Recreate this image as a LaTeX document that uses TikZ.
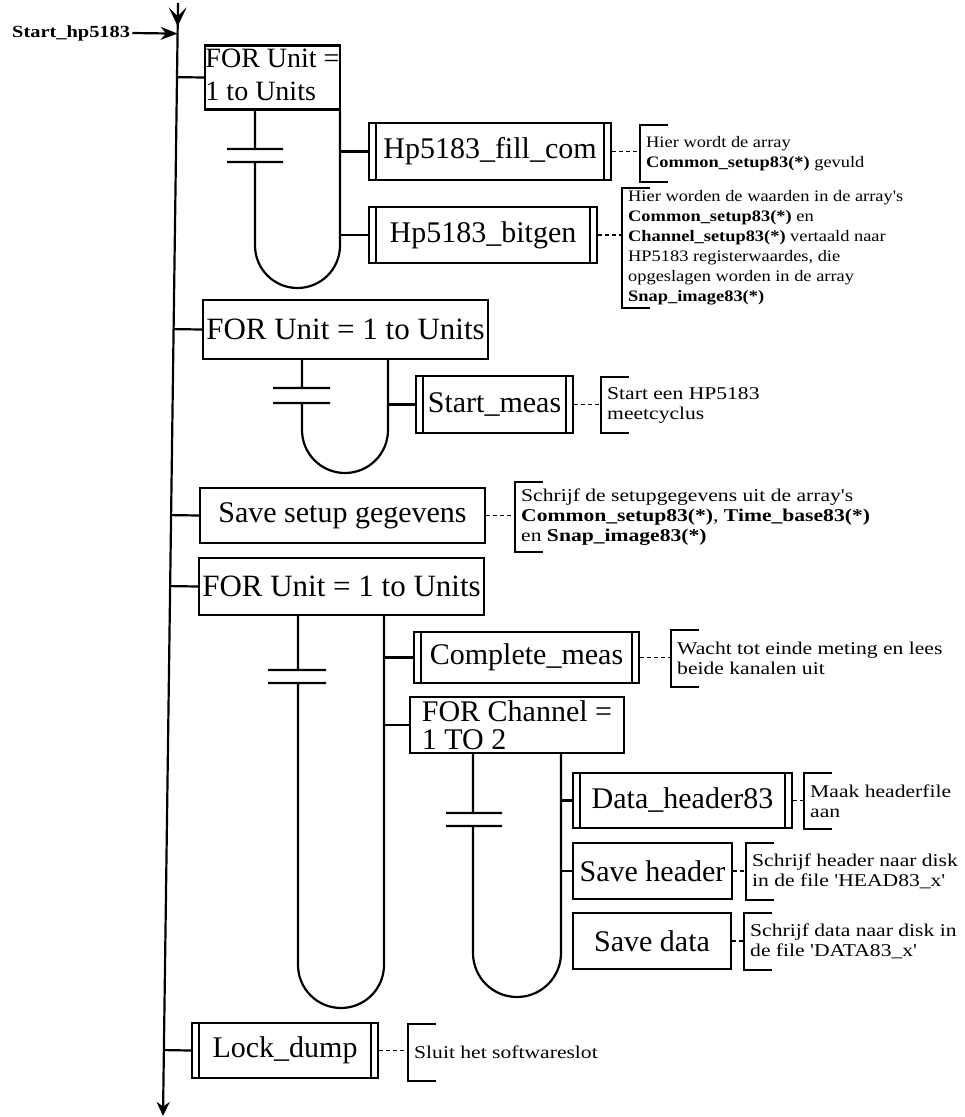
\documentclass[tikz,border=0pt]{standalone}
\usepackage{fontspec}
\setmainfont{Liberation Serif}
\newfontfamily\noteA[FakeStretch=1.15]{Liberation Serif}
\newfontfamily\noteB[FakeStretch=1.2]{Liberation Serif}
\usetikzlibrary{arrows.meta,calc}

% bracket on the left side of a note
\newcommand\notebracket[1]{%
  \draw[brk] ([xshift=28pt]#1.north west) -- (#1.north west) -- (#1.south west) -- ([xshift=28pt]#1.south west);}

\tikzset{
  flow/.style={line width=2.2pt},
  brk/.style={line width=1.9pt},
  dots/.style={line width=1.8pt, dash pattern=on 4pt off 3pt},
  plainbox/.style={draw, line width=2.2pt, rectangle, inner sep=0pt, align=left,
    font=\fontsize{30}{30}\selectfont},
  callbox/.style={plainbox, path picture={
      \draw[line width=2pt]
        ([xshift=7pt]path picture bounding box.north west) -- ([xshift=7pt]path picture bounding box.south west)
        ([xshift=-7pt]path picture bounding box.north east) -- ([xshift=-7pt]path picture bounding box.south east);}},
  noteup/.style={anchor=west, align=left, inner xsep=6pt, inner ysep=0pt,
    font=\noteA\fontsize{16}{19.5}\selectfont},
  notelow/.style={anchor=west, align=left, inner xsep=6pt, inner ysep=0pt,
    font=\noteB\fontsize{18}{20}\selectfont},
}

\begin{document}
\begin{tikzpicture}[x=1pt,y=-1pt]
\fill[white] (0,0) rectangle (965,1117);
\useasboundingbox (0,0) rectangle (965,1117);

% main line with its entry mark at the top
\coordinate (spT) at (178,3);
\coordinate (spB) at (163,1116);
\coordinate (spM) at ($(spT)!0.02!(spB)$);
\draw[flow, -{Stealth[length=14pt,width=13pt]}] (spT) -- (spB);
\fill ($(spM)+(0,1)$) -- ($(spM)+(-9,-18)$) -- ($(spM)+(0,-9)$) -- ($(spM)+(9,-18)$) -- cycle;

\node[anchor=west, inner sep=2pt, font=\noteB\bfseries\fontsize{17}{17}\selectfont] (start) at (10,33) {Start\_hp5183};
\draw[flow, -{Stealth[length=17pt,width=13pt]}] (start.east) -- ($(spT)!(start.east)!(spB)$);

% boxes
\node[plainbox, minimum width=135pt, minimum height=59pt, font=\fontsize{28}{31}\selectfont] (for1) at (272.5,77.5)
  {\raisebox{-6pt}{\begin{tabular}{@{}l@{}}FOR Unit =\\[2pt]1 to Units\end{tabular}}};
\node[callbox, minimum width=242pt, minimum height=57pt] (fill) at (490,151.5) {Hp5183\_fill\_com};
\node[callbox, minimum width=228pt, minimum height=56pt] (bitgen) at (483,235) {Hp5183\_bitgen};
\node[plainbox, minimum width=285pt, minimum height=59pt, font=\fontsize{31}{31}\selectfont] (for2) at (345.5,329.5) {FOR Unit = 1 to Units};
\node[callbox, minimum width=157pt, minimum height=57pt] (smeas) at (494.5,404.5) {Start\_meas};
\node[plainbox, minimum width=285pt, minimum height=55pt] (save) at (342.5,515.5) {Save setup gegevens};
\node[plainbox, minimum width=285pt, minimum height=57pt, font=\fontsize{31}{31}\selectfont] (for4) at (341.5,586.5) {FOR Unit = 1 to Units};
\node[callbox, minimum width=225pt, minimum height=51pt] (cmeas) at (526.5,657.5) {Complete\_meas};
\node[plainbox, minimum width=214pt, minimum height=56pt, font=\fontsize{30}{28}\selectfont] (forch) at (517,725) {FOR Channel =\\1 TO 2};
\node[callbox, minimum width=219pt, minimum height=55pt] (dhead) at (682.5,800.5) {Data\_header83};
\node[plainbox, minimum width=159pt, minimum height=56pt] (shead) at (652.5,871) {Save header};
\node[plainbox, minimum width=158pt, minimum height=56pt] (sdata) at (652,941) {Save data};
\node[callbox, minimum width=186pt, minimum height=55pt] (lock) at (285,1050.5) {Lock\_dump};

% connections from the main line
\foreach \b in {for1,for2,save,for4,lock}{
  \draw[flow] ($(spT)!(\b.west)!(spB)$) -- (\b.west);
}

% loop of the first FOR
\draw[flow] (255,0 |- for1.south) -- (255,149) (227,149) -- (283,149)
  (227,162) -- (283,162) (255,162) -- (255,245.5)
  arc[start angle=180, end angle=0, radius=42.5] -- (340,0 |- for1.south);
\draw[flow] (fill.west -| 340,0) -- (fill.west);
\draw[flow] (bitgen.west -| 340,0) -- (bitgen.west);

% loop of the second FOR
\draw[flow] (302,0 |- for2.south) -- (302,388) (273,388) -- (330,388)
  (273,403) -- (330,403) (302,403) -- (302,430)
  arc[start angle=180, end angle=0, radius=43] -- (388,0 |- for2.south);
\draw[flow] (smeas.west -| 388,0) -- (smeas.west);

% loop of the third FOR
\draw[flow] (298,0 |- for4.south) -- (298,670) (268,670) -- (326,670)
  (268,683) -- (326,683) (298,683) -- (298,965)
  arc[start angle=180, end angle=0, radius=43] -- (384,0 |- for4.south);
\draw[flow] (cmeas.west -| 384,0) -- (cmeas.west);
\draw[flow] (forch.west -| 384,0) -- (forch.west);

% loop over the channels
\draw[flow] (473,0 |- forch.south) -- (473,813) (446,813) -- (502,813)
  (446,826) -- (502,826) (473,826) -- (473,953)
  arc[start angle=180, end angle=0, radius=44] -- (561,0 |- forch.south);
\draw[flow] (dhead.west -| 561,0) -- (dhead.west);
\draw[flow] (shead.west -| 561,0) -- (shead.west);

% notes
\node[noteup, minimum height=57pt] (n1) at (640,153.5) {Hier wordt de array\\\textbf{Common\_setup83(*)} gevuld};
\node[noteup, minimum height=120pt, font=\noteA\fontsize{16}{20}\selectfont] (n2) at (622,248) {Hier worden de waarden in de array's\\\textbf{Common\_setup83(*)} en\\\textbf{Channel\_setup83(*)} vertaald naar\\HP5183 registerwaardes, die\\opgeslagen worden in de array\\\textbf{Snap\_image83(*)}};
\node[notelow, minimum height=56pt] (n3) at (601,405) {Start een HP5183\\meetcyclus};
\node[notelow, minimum height=70pt] (n4) at (515,517) {Schrijf de setupgegevens uit de array's\\\textbf{Common\_setup83(*)}, \textbf{Time\_base83(*)}\\en \textbf{Snap\_image83(*)}};
\node[notelow, minimum height=57pt] (n5) at (671,658.5) {Wacht tot einde meting en lees\\beide kanalen uit};
\node[notelow, minimum height=56pt] (n6) at (804,801) {Maak headerfile\\aan};
\node[notelow, minimum height=57pt] (n7) at (746,871.5) {Schrijf header naar disk\\in de file 'HEAD83\_x'};
\node[notelow, minimum height=57pt] (n8) at (744,941.5) {Schrijf data naar disk in\\de file 'DATA83\_x'};
\node[notelow, minimum height=57pt] (n9) at (408,1052.5) {Sluit het softwareslot};

\foreach \n in {n1,n2,n3,n4,n5,n6,n7,n8,n9}{\notebracket{\n}}

\draw[dots] (fill.east) -- (fill.east -| n1.west);
\draw[dots] (bitgen.east) -- (bitgen.east -| n2.west);
\draw[dots] (smeas.east) -- (smeas.east -| n3.west);
\draw[dots] (save.east) -- (save.east -| n4.west);
\draw[dots] (cmeas.east) -- (cmeas.east -| n5.west);
\draw[dots] (dhead.east) -- (dhead.east -| n6.west);
\draw[dots] (shead.east) -- (shead.east -| n7.west);
\draw[dots] (sdata.east) -- (sdata.east -| n8.west);
\draw[dots] (lock.east) -- (lock.east -| n9.west);
\end{tikzpicture}
\end{document}
